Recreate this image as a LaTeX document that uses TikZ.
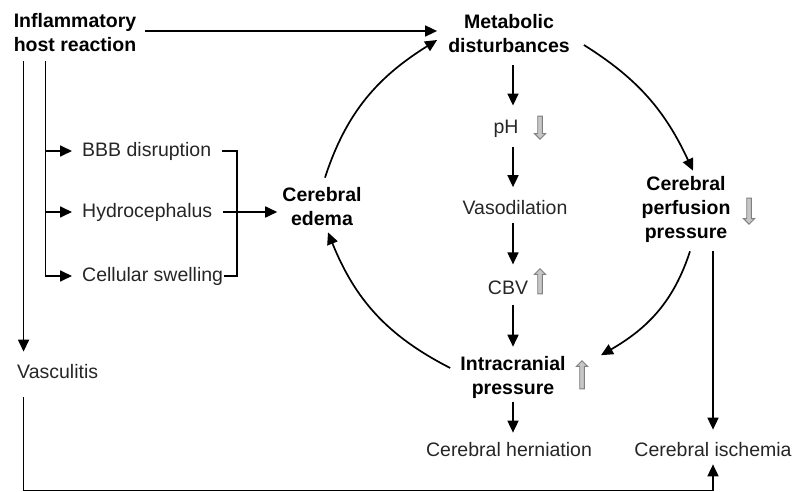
\documentclass[tikz,border=0pt]{standalone}
\usepackage{fontspec}
\setmainfont{Liberation Sans}
\usetikzlibrary{arrows.meta,shapes.arrows}
\newcommand\lbfont{\fontsize{19.5}{24}\selectfont}
\tikzset{
  lbl/.style={inner sep=0pt, font=\lbfont, text=black!85},
  bld/.style={inner sep=0pt, font=\lbfont\bfseries, align=center},
  arr/.style={line width=1.7pt, -{Triangle[length=12pt,width=11pt]}},
  ln/.style={line width=1.7pt},
  garrow/.style={single arrow, draw=gray, fill=gray!45, line width=0.9pt,
    inner sep=1.7pt, minimum width=11pt, single arrow head extend=3pt,
    single arrow head indent=0pt}
}
\begin{document}
\begin{tikzpicture}[x=1pt,y=1pt]
\useasboundingbox[fill=white] (0,0) rectangle (800,492);
% nodes
\node[bld, align=left] (inflam) at (75,459) {Inflammatory\\host reaction};
\node[bld] (meta) at (509,458) {Metabolic\\disturbances};
\node[lbl] (ph) at (506,363.5) {pH};
\node[lbl] (vaso) at (515,284.5) {Vasodilation};
\node[lbl] (cbv) at (508,204.5) {CBV};
\node[bld] (icp) at (513,115) {Intracranial\\pressure};
\node[lbl] (hern) at (509,42) {Cerebral herniation};
\node[lbl] (isch) at (713,42) {Cerebral ischemia};
\node[bld] (cpp) at (686,283) {Cerebral\\perfusion\\pressure};
\node[bld] (edema) at (322,285) {Cerebral\\edema};
\node[lbl, anchor=west] (bbb) at (82,341) {BBB disruption};
\node[lbl, anchor=west] (hydro) at (82,280) {Hydrocephalus};
\node[lbl, anchor=west] (cell) at (82,216) {Cellular swelling};
\node[lbl, anchor=west] (vasc) at (17,120) {Vasculitis};
% gray trend arrows
\node[garrow, rotate=-90, minimum height=23pt] (pharr) at (540,365.5) {};
\node[garrow, rotate=90, minimum height=25pt] (cbvarr) at (540,209.5) {};
\node[garrow, rotate=90, minimum height=28pt] (icparr) at (582,116) {};
\node[garrow, rotate=-90, minimum height=26pt] (cpparr) at (749,282) {};
% helper coordinates
\coordinate (v1) at ([xshift=10,yshift=-9]inflam.south west);
\coordinate (v2) at ([xshift=32,yshift=-9]inflam.south west);
\coordinate (cx) at (513,0);
\coordinate (brx) at (237,300);
\coordinate (bot) at (0,1.5);
% connectors
\draw[arr] ([xshift=9,yshift=2]inflam.east) -- ([xshift=-11,yshift=3]meta.west);
\draw[arr, shorten >=13pt] (v1) -- (v1 |- vasc.north);
\draw[arr, shorten <=18pt, shorten >=7pt] (v1 |- vasc.south) -- (v1 |- bot) -| (isch.south);
\draw[arr, shorten >=10pt] (v2) |- (cell.west);
\draw[arr, shorten >=10pt] (v2 |- bbb.west) -- (bbb.west);
\draw[arr, shorten >=10pt] (v2 |- hydro.west) -- (hydro.west);
\draw[ln, shorten <=11pt, shorten >=1pt] (bbb.east) -| (brx) |- (cell.east);
\draw[arr, shorten <=11pt, shorten >=5pt] (hydro.east) -- (hydro.east -| edema.west);
% cycle arcs
\draw[arr] ([xshift=3,yshift=10]edema.north) to[out=72,in=212] ([xshift=-11,yshift=-6]meta.west);
\draw[arr] ([xshift=14,yshift=-11]meta.east) to[out=-32,in=115] ([xshift=7,yshift=5]cpp.north);
\draw[arr] ([xshift=4,yshift=-9]cpp.south) to[out=-108,in=30] ([xshift=19,yshift=5]icparr.east);
\draw[arr] ([xshift=-10,yshift=9]icp.west) to[out=153,in=-68] ([xshift=6,yshift=-6]edema.south);
% vertical chain
\draw[arr, shorten <=12pt, shorten >=14pt] (meta.south -| cx) -- (ph.north -| cx);
\draw[arr, shorten <=10pt, shorten >=13pt] (ph.south -| cx) -- (vaso.north -| cx);
\draw[arr, shorten <=8pt, shorten >=16pt] (vaso.south -| cx) -- (cbv.north -| cx);
\draw[arr, shorten <=10pt, shorten >=9pt] (cbv.south -| cx) -- (icp.north -| cx);
\draw[arr, shorten <=4pt, shorten >=10pt] (icp.south -| cx) -- (hern.north -| cx);
\draw[arr, shorten <=9pt, shorten >=13pt] (cpp.south -| isch.north) -- (isch.north);
\end{tikzpicture}
\end{document}
